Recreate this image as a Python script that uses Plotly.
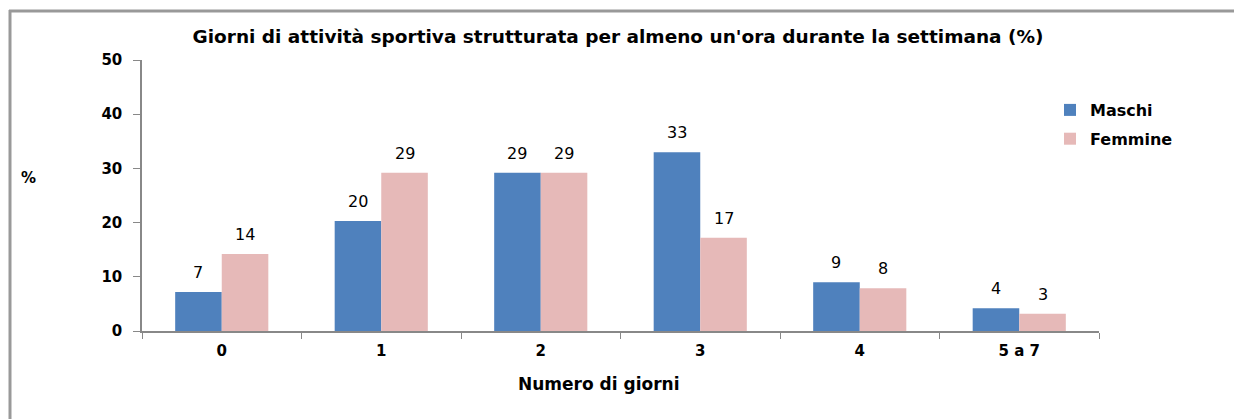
import plotly.graph_objects as go

# Data
categories = ["0", "1", "2", "3", "4", "5 a 7"]
maschi = [7.2, 20.3, 29.2, 33.0, 9.0, 4.2]
femmine = [14.2, 29.2, 29.2, 17.2, 7.9, 3.2]
series = [("Maschi", maschi, "#4F81BD"), ("Femmine", femmine, "#E6B9B8")]

FONT = "DejaVu Sans"
OFF = 8  # page body margin
W, H = 1242 - OFF, 419 - OFF
L, T = 142 - OFF, 60 - OFF
pw, ph = 957, 271
R = W - L - pw
B = H - T - ph


def px_x(x):
    # screen pixel -> paper x
    return (x - OFF - L) / pw


def px_y(y):
    # screen pixel -> paper y
    return (T + ph - (y - OFF)) / ph


fig = go.Figure()

for i, (name, vals, color) in enumerate(series):
    fig.add_trace(go.Bar(
        x=categories, y=vals, name=f"<b>{name}</b>",
        marker_color=color, marker_line_width=0,
        legendgroup=name,
    ))
    # value labels above bars
    for cat, v in zip(categories, vals):
        fig.add_annotation(
            x=cat, y=v, text=f"{v:.0f}", showarrow=False,
            xshift=-23.5 if i == 0 else 23.5, yshift=8, yanchor="bottom",
            font=dict(family=FONT, size=16, color="#000000"),
        )

fig.update_layout(
    width=W, height=H,
    margin=dict(l=L, r=R, t=T, b=B),
    paper_bgcolor="white", plot_bgcolor="white",
    barmode="group", bargap=0.416, bargroupgap=0,
    font=dict(family=FONT, color="#000000"),
    title=dict(
        text="<b>Giorni di attività sportiva strutturata per almeno un'ora durante la settimana (%)</b>",
        font=dict(family=FONT, size=18.5, color="#000000"),
        xref="container", x=(618 - OFF) / W, xanchor="center",
        yref="container", y=1 - (37 - OFF) / H, yanchor="middle",
    ),
    legend=dict(
        x=px_x(1050), y=px_y(93), xanchor="left", yanchor="top",
        font=dict(family=FONT, size=16, color="#000000"),
        traceorder="grouped", tracegroupgap=5,
        bgcolor="rgba(0,0,0,0)",
    ),
    showlegend=True,
)

fig.update_xaxes(
    showgrid=False, showline=True, linecolor="#888888", linewidth=1.5,
    ticks="outside", tickson="boundaries", ticklen=6, tickcolor="#888888",
    tickfont=dict(family=FONT, size=15, color="#000000"),
    tickprefix="<b>", ticksuffix="</b>", ticklabelstandoff=5,
)
fig.update_yaxes(
    range=[0, 50], dtick=10, showgrid=False, zeroline=False,
    showline=True, linecolor="#888888", linewidth=1.5,
    ticks="outside", ticklen=7, tickcolor="#888888",
    tickfont=dict(family=FONT, size=15, color="#000000"),
    tickprefix="<b>", ticksuffix="</b>", ticklabelstandoff=8,
)

# Axis titles
fig.add_annotation(
    text="<b>%</b>", xref="paper", yref="paper",
    x=px_x(28), y=px_y(178), xanchor="center", yanchor="middle", showarrow=False,
    font=dict(family=FONT, size=15, color="#000000"),
)
fig.add_annotation(
    text="<b>Numero di giorni</b>", xref="paper", yref="paper",
    x=px_x(598), y=px_y(384), xanchor="center", yanchor="middle", showarrow=False,
    font=dict(family=FONT, size=17, color="#000000"),
)

# Frame (only top and left edges visible in the picture)
frame = dict(color="#999999", width=3)
fig.add_shape(type="line", xref="paper", yref="paper",
              x0=px_x(9), x1=px_x(1260), y0=px_y(11), y1=px_y(11),
              line=frame, layer="below")
fig.add_shape(type="line", xref="paper", yref="paper",
              x0=px_x(10), x1=px_x(10), y0=px_y(10), y1=px_y(430),
              line=frame, layer="below")

# hide the page scrollbars
fig.write_html("out.html", post_script="document.body.style.overflow = 'hidden';")
